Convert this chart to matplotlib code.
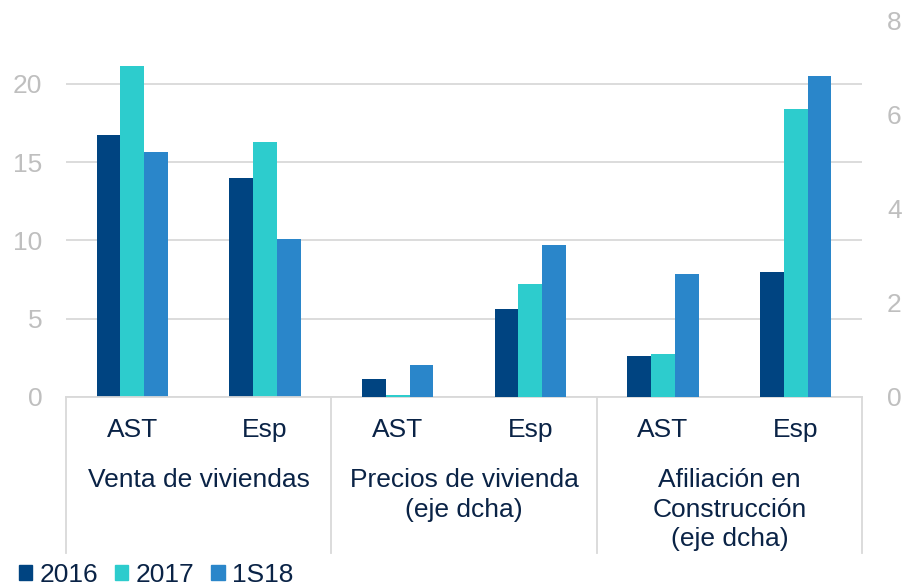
import numpy as np
import matplotlib.pyplot as plt
from matplotlib.patches import Patch

plt.rcParams['font.family'] = ['Liberation Sans', 'DejaVu Sans']

# data
groups = ['Venta de viviendas', 'Precios de vivienda\n(eje dcha)', 'Afiliación en\nConstrucción\n(eje dcha)']
regions = ['AST', 'Esp', 'AST', 'Esp', 'AST', 'Esp']
axis_side = ['left', 'left', 'right', 'right', 'right', 'right']
series = ['2016', '2017', '1S18']
v2016 = [16.7, 13.95, 0.38, 1.87, 0.88, 2.66]
v2017 = [21.15, 16.26, 0.04, 2.41, 0.92, 6.13]
v1s18 = [15.67, 10.06, 0.68, 3.23, 2.62, 6.84]
colors = ['#004481', '#2DCCCD', '#2A86CA']

text_col = '#0A2346'
grey = '#BFBFBF'
line_grey = '#D9D9D9'

fig = plt.figure(figsize=(9.03, 5.87), dpi=100)
ax = fig.add_axes([66 / 903, 1 - 397 / 587, (862 - 66) / 903, (397 - 21) / 587])
ax2 = ax.twinx()

x = np.arange(len(regions))
w = 0.18
for i, vals in enumerate([v2016, v2017, v1s18]):
    for j, v in enumerate(vals):
        target = ax if axis_side[j] == 'left' else ax2
        target.bar(x[j] + (i - 1) * w, v, w, color=colors[i], zorder=3)

ax.set_xlim(-0.5, len(regions) - 0.5)
ax.set_ylim(0, 24)
ax2.set_ylim(0, 8)
ax.set_yticks([0, 5, 10, 15, 20])
ax2.set_yticks([0, 2, 4, 6, 8])
ax.set_xticks([])
ax.grid(axis='y', color=line_grey, linewidth=1.3, zorder=0)

for a in (ax, ax2):
    for s in ['top', 'left', 'right', 'bottom']:
        a.spines[s].set_visible(False)
    a.tick_params(axis='y', length=0, labelsize=19, labelcolor=grey)
ax.tick_params(axis='y', pad=17)
ax2.tick_params(axis='y', pad=18)

# axis baseline and group separators
trans = ax.get_xaxis_transform()
ax.plot([-0.5, len(regions) - 0.5], [0, 0], transform=trans, color=line_grey, lw=1.3, clip_on=False, zorder=4)
for sep in [-0.5, 1.5, 3.5, 5.5]:
    ax.plot([sep, sep], [0, -0.415], transform=trans, color=line_grey, lw=1.3, clip_on=False)

for j, r in enumerate(regions):
    ax.text(x[j], -0.088, r, transform=trans, ha='center', va='center', fontsize=19, color=text_col)
for g, name in enumerate(groups):
    ax.text(2 * g + 0.5, -0.19, name, transform=trans, ha='center', va='top', fontsize=19,
            color=text_col, linespacing=1.28)

handles = [Patch(color=c) for c in colors]
fig.legend(handles, series, loc='lower left', bbox_to_anchor=(0.0095, -0.018), ncol=3, frameon=False,
           fontsize=19, handlelength=0.5, handleheight=0.5, handletextpad=0.28, columnspacing=0.64,
           labelcolor=text_col, borderaxespad=0)

fig.savefig('out.png', dpi=100)
